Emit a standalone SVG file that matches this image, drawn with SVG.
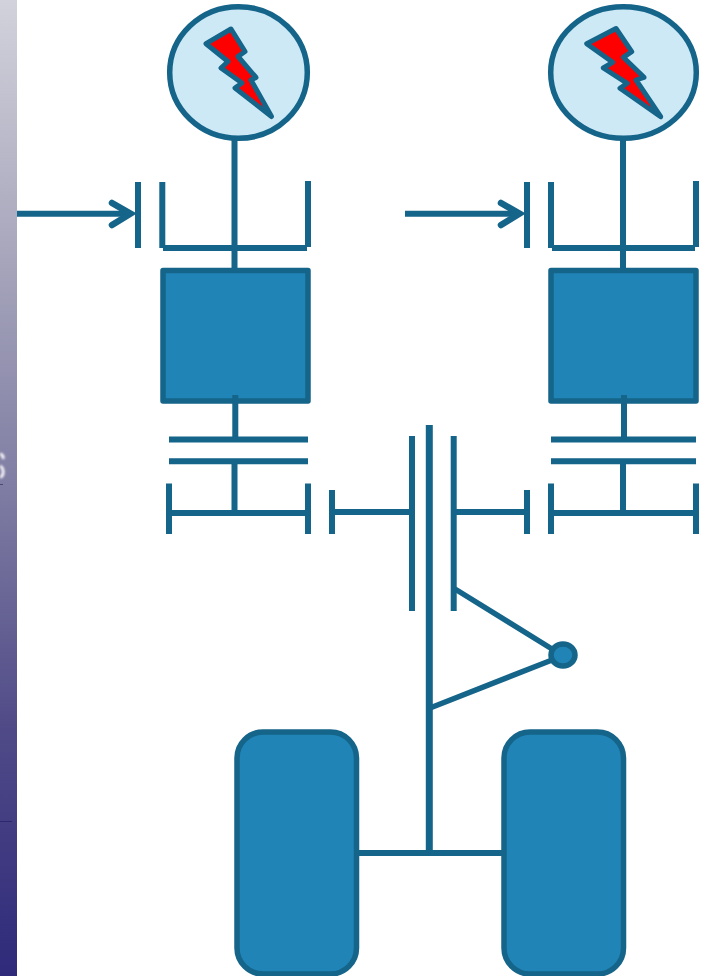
<svg xmlns="http://www.w3.org/2000/svg" width="710" height="976" viewBox="0 0 710 976">
<defs>
<linearGradient id="side" x1="0" y1="0" x2="0" y2="1">
<stop offset="0" stop-color="#d2d2dc"/>
<stop offset="0.25" stop-color="#a9a8bd"/>
<stop offset="0.5" stop-color="#7f7da3"/>
<stop offset="0.75" stop-color="#4f4a87"/>
<stop offset="1" stop-color="#2f2a7a"/>
</linearGradient>
<filter id="soft" x="-100%" y="-50%" width="300%" height="200%"><feGaussianBlur stdDeviation="0.9"/></filter>
</defs>
<style>
.l{fill:none;stroke:#156489;stroke-width:6}
.box{fill:#2084b7;stroke:#156489;stroke-width:5.500;stroke-linejoin:round}
.motor{fill:#cde9f6;stroke:#156489;stroke-width:5.500}
.bolt{fill:#ff0000;stroke:#156489;stroke-width:5;stroke-linejoin:round}
.shaft{fill:none;stroke:#156489;stroke-width:6}
.head{fill:none;stroke:#156489;stroke-width:6.500;stroke-linecap:round;stroke-linejoin:miter}
</style>
<g id="sidebar">
<rect x="0" y="0" width="17" height="976" fill="url(#side)"/>
<path d="M0 454Q4 455 3 459M0 466Q4 468 3 474Q2 477 0 477" fill="none" stroke="#f4f2f6" stroke-width="3" filter="url(#soft)"/>
<rect x="0" y="484" width="3" height="1" fill="#4a4a70"/>
<rect x="0" y="821" width="12" height="1" fill="#2b2770"/>
</g>
<g id="engine-left"><rect class="box" x="163" y="270.500" width="145" height="130.500"/></g>
<g id="engine-right"><rect class="box" x="551" y="270.500" width="145" height="130.500"/></g>
<g id="wheel-left"><rect class="box" x="237" y="732" width="119.500" height="242" rx="26"/></g>
<g id="wheel-right"><rect class="box" x="504" y="732" width="119.500" height="242" rx="26"/></g>
<g id="connectors">
<path class="l" d="M234.500 138V268M235.300 395V439M234.500 461V513"/>
<path class="l" d="M623 138V268M624 395V439M623 461V513"/>
<path class="shaft" d="M17 213.700H130"/>
<path class="head" d="M112 203L130.500 213.700L112 225"/>
<path class="shaft" d="M405 213.700H519"/>
<path class="head" d="M501 203L519.500 213.700L501 225"/>
<path class="l" style="stroke-width:7" d="M429.300 425V853"/>
<path class="l" d="M358 853H504"/>
<path class="l" style="stroke-width:5.500" d="M455 589L552 649M430 708L552 660"/>
</g>
<g id="clutch-left">
<path class="l" d="M138 182V248M162.300 182V248M163 248H307M308 181V247"/>
</g>
<g id="clutch-right">
<path class="l" d="M527 182V248M551 182V248M552 248H695M696 181V247"/>
</g>
<g id="motor-left">
<ellipse class="motor" cx="238.500" cy="72.500" rx="68.800" ry="65.800"/>
<path class="bolt" d="M231 29L206 43.700L228 61.500L221 68L242 83L235 88L271.500 116.500L251 80L256 77.500L238 56.500L245 51.500Z"/>
</g>
<g id="motor-right">
<ellipse class="motor" cx="623.500" cy="72.500" rx="72.800" ry="65.800"/>
<path class="bolt" d="M616 28.500L586.700 43.700L612.700 62.300L603.300 68L627.300 83.300L620 88.300L660.700 116.700L636 80L644 77.300L623.300 57.300L631.700 51.700Z"/>
</g>
<g id="gear-left">
<path class="l" d="M169 439.500H308M169 461.300H308M169 483.500V534M172 513H305M308 483.500V534"/>
</g>
<g id="gear-right">
<path class="l" d="M551 439.500H696M551 461.300H696M551 483.500V534M554 513H693M696 483.500V534"/>
</g>
<g id="gear-center">
<path class="l" d="M332 490V534M332 512H411M412 436V611M453.700 436V611M454 512H527M527 490V534"/>
</g>
<g id="pivot"><ellipse class="box" cx="563" cy="655" rx="12" ry="11"/></g>
</svg>
